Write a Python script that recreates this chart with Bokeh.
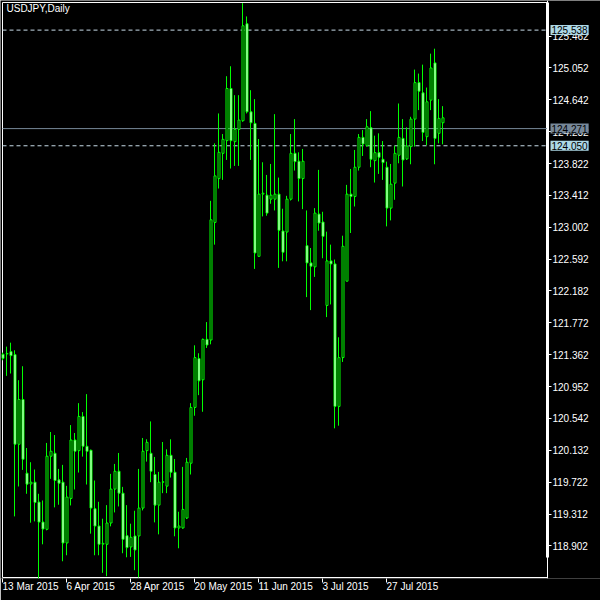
import pandas as pd
from bokeh.plotting import figure
from bokeh.models import (ColumnDataSource, FixedTicker, PrintfTickFormatter, Range1d, Label)
from bokeh.embed import file_html
from bokeh.resources import INLINE

# ---------------- data (USDJPY daily) ----------------
open_ = [121.368, 121.372, 121.402, 121.363, 120.210, 120.786, 119.838, 119.700, 119.722, 119.466,
         119.209, 119.116, 120.056, 120.094, 119.752, 119.722, 118.940, 119.513, 120.265, 120.128,
         120.568, 120.184, 120.133, 119.380, 119.158, 118.925, 118.923, 119.197, 119.633, 119.863,
         119.581, 119.034, 118.889, 119.030, 119.030, 119.389, 120.128, 120.094, 119.821, 119.427,
         119.722, 119.671, 120.068, 119.850, 119.133, 119.133, 119.261, 119.966, 120.684, 121.312,
         121.039, 121.560, 121.551, 123.064, 123.628, 123.953, 124.116, 124.787, 124.103, 124.261,
         124.372, 125.620, 124.487, 124.338, 122.628, 123.428, 123.415, 123.363, 123.363, 123.428,
         122.953, 122.940, 123.363, 123.953, 123.851, 123.628, 122.765, 122.543, 122.492, 123.171,
         123.069, 121.996, 122.569, 122.530, 120.697, 121.325, 122.308, 123.428, 123.398, 123.774,
         124.158, 124.051, 124.282, 123.859, 123.962, 123.876, 123.774, 123.248, 123.569, 123.928,
         124.145, 123.881, 124.039, 124.393, 124.863, 124.731, 124.167, 124.637, 125.116, 124.210,
         124.346]
high = [121.389, 121.466, 121.517, 121.419, 121.034, 121.214, 120.162, 119.979, 119.885, 119.573,
        119.487, 120.227, 120.368, 120.329, 119.893, 119.945, 119.675, 120.457, 120.355, 120.739,
        120.624, 120.855, 120.141, 119.744, 119.470, 119.252, 119.427, 119.829, 119.957, 120.098,
        119.662, 119.427, 119.188, 119.355, 119.893, 120.291, 120.274, 120.504, 120.047, 119.855,
        120.239, 120.145, 120.274, 120.021, 119.342, 119.919, 120.034, 120.739, 121.483, 121.381,
        121.569, 121.782, 123.342, 124.081, 124.466, 124.201, 124.945, 125.073, 124.701, 124.701,
        125.885, 125.714, 124.765, 124.650, 124.137, 123.838, 123.675, 123.816, 124.457, 123.641,
        123.240, 123.406, 124.201, 124.393, 123.966, 124.009, 123.218, 122.735, 123.248, 123.740,
        123.201, 122.945, 122.778, 122.586, 121.586, 122.893, 123.547, 123.752, 123.996, 124.201,
        124.252, 124.393, 124.496, 124.180, 124.210, 124.111, 123.846, 123.816, 124.051, 124.594,
        124.393, 124.287, 124.423, 125.030, 124.979, 125.094, 124.799, 125.235, 125.299, 124.650,
        124.560]
low = [121.291, 121.090, 121.120, 119.282, 119.667, 119.880, 119.573, 119.201, 119.218, 118.480,
       118.923, 119.103, 119.765, 119.398, 119.432, 118.705, 118.782, 119.423, 119.628, 119.846,
       120.051, 119.692, 119.060, 118.782, 118.782, 118.556, 118.513, 119.154, 119.333, 119.410,
       118.808, 118.756, 118.761, 118.590, 118.496, 119.359, 119.987, 119.722, 119.205, 119.051,
       119.581, 119.581, 119.782, 119.026, 118.872, 119.124, 119.248, 119.821, 120.577, 120.842,
       120.628, 121.449, 121.496, 122.778, 123.500, 123.611, 123.868, 123.757, 123.791, 123.791,
       124.359, 124.466, 123.868, 122.466, 122.620, 123.141, 123.150, 123.304, 123.218, 122.479,
       122.564, 122.564, 123.346, 123.731, 123.334, 123.235, 122.103, 121.936, 122.363, 122.957,
       122.603, 121.846, 122.009, 120.415, 120.449, 121.269, 122.308, 122.928, 123.269, 123.731,
       123.919, 124.039, 123.774, 123.577, 123.688, 123.611, 123.013, 123.090, 123.355, 123.825,
       123.526, 123.868, 123.812, 124.039, 124.509, 124.111, 124.056, 124.509, 123.812, 124.081,
       124.069]
close = [121.316, 121.378, 121.350, 120.210, 120.786, 120.017, 119.697, 119.722, 119.462, 119.209,
         119.120, 120.056, 120.120, 119.744, 119.709, 118.940, 119.530, 120.265, 120.120, 120.568,
         120.184, 120.120, 119.389, 119.158, 118.923, 118.935, 119.197, 119.633, 119.863, 119.581,
         118.987, 118.880, 119.013, 118.850, 119.389, 120.120, 120.235, 119.863, 119.427, 119.722,
         119.727, 120.068, 119.850, 119.133, 119.158, 119.372, 119.979, 120.684, 121.325, 121.026,
         121.560, 121.487, 123.098, 123.663, 123.966, 124.133, 124.787, 124.116, 124.261, 124.381,
         125.594, 124.487, 124.346, 122.671, 123.428, 123.440, 123.184, 123.415, 123.428, 122.962,
         122.680, 123.363, 123.953, 123.846, 123.628, 123.851, 122.543, 122.500, 123.184, 123.056,
         122.885, 122.569, 122.530, 120.697, 121.325, 122.757, 123.428, 123.398, 123.774, 124.158,
         124.073, 124.295, 123.876, 123.962, 123.902, 123.834, 123.248, 123.556, 123.953, 124.158,
         123.868, 124.047, 124.393, 124.863, 124.752, 124.222, 124.616, 125.051, 124.145, 124.402,
         124.410]

first_day = "2015-03-13"
date_labels = ["13 Mar 2015", "6 Apr 2015", "28 Apr 2015", "20 May 2015",
               "11 Jun 2015", "3 Jul 2015", "27 Jul 2015"]
price_ticks = [118.902, 119.312, 119.722, 120.132, 120.542, 120.952, 121.362, 121.772,
               122.182, 122.592, 123.002, 123.412, 123.822, 124.232, 124.642, 125.052, 125.462]
level_upper = 125.538
level_lower = 124.050
bid_price = 124.271
chart_title = "USDJPY,Daily"

# ---------------- geometry (pixels) ----------------
W, H = 600, 600
BB = 20                      # space for the date scale
FRAME_W, FRAME_H = W, H - BB
BAR_PX = 4.0                 # one trading day
PX_PER_YEN = 78.0
BODY_SHIFT = 0.5 / BAR_PX    # half-pixel nudge so the body outlines stay crisp

# ---------------- derived ----------------
dates = pd.bdate_range(first_day, periods=len(open_))
idx = list(range(len(open_)))
date_str = [f"{d.day} {d.strftime('%b %Y')}" for d in dates]
tick_idx = [date_str.index(s) for s in date_labels]

GREEN = "#00ff00"
FONT = "Liberation Sans"
bull = [c >= o for o, c in zip(open_, close)]
src = ColumnDataSource(dict(
    x=idx, bx=[i + BODY_SHIFT for i in idx], high=high, low=low,
    top=[max(o, c) for o, c in zip(open_, close)],
    bottom=[min(o, c) for o, c in zip(open_, close)],
    fill=["#000000" if b else "#ffffff" for b in bull],
))

x0 = -2.0 / BAR_PX
x1 = x0 + FRAME_W / BAR_PX
y_top = 125.919
y_bot = y_top - FRAME_H / PX_PER_YEN
x_left = x0 + 2.0 / BAR_PX          # chart border columns / rows
x_right = x0 + 547.0 / BAR_PX
y_border_top = y_top - 2.0 / PX_PER_YEN
y_border_bot = y_top - 579.0 / PX_PER_YEN
y_scale_bar_end = y_top - 559.0 / PX_PER_YEN   # end of the white scale bar

p = figure(width=W, height=H, output_backend="svg", toolbar_location=None,
           x_range=Range1d(x0, x1), y_range=Range1d(y_bot, y_top),
           y_axis_location="right",
           min_border_left=0, min_border_right=0, min_border_top=0, min_border_bottom=BB)
p.background_fill_color = "black"
p.border_fill_color = "black"
p.outline_line_color = None
p.grid.visible = False

# x axis: date labels left-aligned at their ticks (tiny negative orientation)
xa = p.xaxis[0]
xa.ticker = FixedTicker(ticks=tick_idx)
xa.major_label_overrides = {t: s for t, s in zip(tick_idx, date_labels)}
xa.major_label_orientation = -1e-6
xa.axis_line_color = None
xa.major_tick_line_color = "white"
xa.major_tick_out = 4
xa.major_tick_in = 0
xa.minor_tick_line_color = None
xa.major_label_text_color = "white"
xa.major_label_text_font = FONT
xa.major_label_text_font_size = "10px"
xa.major_label_standoff = 4

# price scale drawn at the chart's right border
ya = p.yaxis[0]
ya.fixed_location = x_right
ya.ticker = FixedTicker(ticks=price_ticks)
ya.formatter = PrintfTickFormatter(format="%.3f")
ya.axis_line_color = "white"
ya.axis_line_width = 1
ya.major_tick_line_color = "white"
ya.major_tick_out = 4
ya.major_tick_in = 0
ya.minor_tick_line_color = None
ya.major_label_text_color = "white"
ya.major_label_text_font = FONT
ya.major_label_text_font_size = "10px"
ya.major_label_standoff = 1

# chart border (left, top, bottom) and the white bar on the price scale
p.segment(x0=[x_left, x_left, x_left], y0=[y_border_bot, y_border_top, y_border_bot],
          x1=[x_left, x_right, x_right], y1=[y_border_top, y_border_top, y_border_bot],
          line_color="white", line_width=1)
p.segment(x0=[x_right], y0=[y_border_top], x1=[x_right], y1=[y_scale_bar_end],
          line_color="white", line_width=3)

# level lines
lv = ColumnDataSource(dict(y=[level_upper, level_lower], x0=[x_left] * 2, x1=[x_right] * 2))
p.segment(x0="x0", y0="y", x1="x1", y1="y", source=lv, line_color="#c8dce8",
          line_dash="4 3", line_width=1)
p.segment(x0=[x_left], y0=[bid_price], x1=[x_right], y1=[bid_price],
          line_color="#778899", line_width=1)

# candles
p.segment(x0="x", y0="low", x1="x", y1="high", source=src, line_color=GREEN, line_width=1)
p.vbar(x="bx", width=0.5, top="top", bottom="bottom", source=src,
       fill_color="fill", line_color=GREEN, line_width=1)

# price tags on the right scale
for lvl, bg in ((level_upper, "#add8e6"), (bid_price, "#778899"), (level_lower, "#add8e6")):
    p.add_layout(Label(x=x_right, x_offset=3, y=lvl, text=f"{lvl:.3f}",
                       text_align="left", text_baseline="middle", text_color="black",
                       text_font=FONT, text_font_size="10px", background_fill_color=bg,
                       padding=1))

# title
p.add_layout(Label(x=6, y=FRAME_H - 4, x_units="screen", y_units="screen", text=chart_title,
                   text_align="left", text_baseline="top", text_color="white",
                   text_font=FONT, text_font_size="10px"))

open("out.html", "w").write(file_html(p, INLINE))
